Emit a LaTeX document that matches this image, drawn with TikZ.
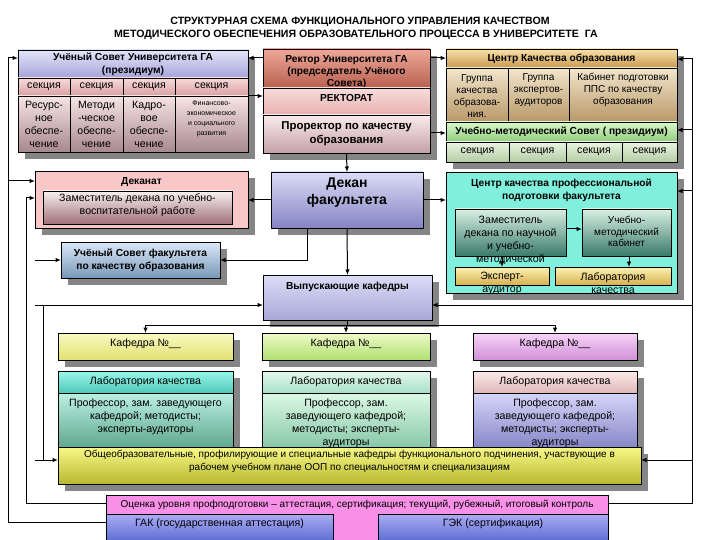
\documentclass[tikz,border=0pt]{standalone}
\usepackage{fontspec}
\setmainfont{Liberation Sans}
\usetikzlibrary{arrows.meta,shadows}

\newcommand\tn{\fontsize{10.6}{13}\selectfont}
\newcommand\tnS{\fontsize{10}{11.8}\selectfont}
\newcommand\tb{\bfseries\fontsize{10.2}{13}\selectfont}
\newcommand\tr{\bfseries\fontsize{10.2}{12}\selectfont}
\newcommand\tbl{\bfseries\fontsize{11.4}{13.5}\selectfont}
\newcommand\tbig{\bfseries\fontsize{14}{17}\selectfont}
\newcommand\tsm{\fontsize{10}{13}\selectfont}
\newcommand\ttiny{\fontsize{7}{10}\selectfont}

\definecolor{cLavT}{HTML}{E4E4FA}\definecolor{cLavB}{HTML}{A4A4D8}
\definecolor{cPkT}{HTML}{F8DADA}\definecolor{cPkB}{HTML}{D8A0A0}
\definecolor{cMvT}{HTML}{F6E4E4}\definecolor{cMvB}{HTML}{A88890}
\definecolor{cRcT}{HTML}{EEA898}\definecolor{cRcB}{HTML}{B86050}
\definecolor{cRtT}{HTML}{F8DCDC}\definecolor{cRtB}{HTML}{E8B0B0}
\definecolor{cPrT}{HTML}{FAECEC}\definecolor{cPrB}{HTML}{C4A0A8}
\definecolor{cCqT}{HTML}{F8E2A8}\definecolor{cCqB}{HTML}{C89850}
\definecolor{cCcT}{HTML}{F2E6CC}\definecolor{cCcB}{HTML}{B89868}
\definecolor{cUmT}{HTML}{DAF8CA}\definecolor{cUmB}{HTML}{8ECC7C}
\definecolor{cUsT}{HTML}{EAF4E2}\definecolor{cUsB}{HTML}{B4CCA4}
\definecolor{cDk}{HTML}{F8C8C8}
\definecolor{cZmT}{HTML}{F8F0F0}\definecolor{cZmB}{HTML}{A07078}
\definecolor{cUfT}{HTML}{DAE8F8}\definecolor{cUfB}{HTML}{7898B8}
\definecolor{cDfT}{HTML}{DCDCF6}\definecolor{cDfB}{HTML}{8484C4}
\definecolor{cVyT}{HTML}{DCDCF6}\definecolor{cVyB}{HTML}{A8A8D8}
\definecolor{cCpf}{HTML}{80F0DC}
\definecolor{cTeT}{HTML}{D8F0E4}\definecolor{cTeB}{HTML}{3A7A6A}
\definecolor{cYeT}{HTML}{FAF2B4}\definecolor{cYeB}{HTML}{D8B050}
\definecolor{cK1T}{HTML}{FAFAC4}\definecolor{cK1B}{HTML}{E0E070}
\definecolor{cK2T}{HTML}{EEFAC8}\definecolor{cK2B}{HTML}{B0E070}
\definecolor{cK3T}{HTML}{F8D4F8}\definecolor{cK3B}{HTML}{D090D8}
\definecolor{cL1T}{HTML}{98F8EA}\definecolor{cL1B}{HTML}{50C8B8}
\definecolor{cL2T}{HTML}{E4F8EE}\definecolor{cL2B}{HTML}{A8E0C8}
\definecolor{cL3T}{HTML}{FCEAEA}\definecolor{cL3B}{HTML}{E0B8B8}
\definecolor{cP1T}{HTML}{BCF0E2}\definecolor{cP1B}{HTML}{60A890}
\definecolor{cP2T}{HTML}{DCF8E4}\definecolor{cP2B}{HTML}{88C8A8}
\definecolor{cP3T}{HTML}{D4D4F8}\definecolor{cP3B}{HTML}{8888C8}
\definecolor{cObT}{HTML}{F8F888}\definecolor{cObB}{HTML}{B8B830}
\definecolor{cOc}{HTML}{F890E8}
\definecolor{cGkT}{HTML}{ACACF8}\definecolor{cGkB}{HTML}{6070D0}

\tikzset{
  tf/.code={\gdef\curtf{#1}},
  ty/.code={\gdef\curty{#1}},
  bxs/.style={draw=black, line width=0.7pt, inner sep=0pt, outer sep=0pt},
  shd/.style={drop shadow={shadow xshift=7pt,shadow yshift=-7pt,fill=black!48,opacity=1}},
  gr/.style 2 args={top color=#1,bottom color=#2},
  txs/.style={inner sep=0pt, align=center, text=black},
  ln/.style={line width=1pt},
  arr/.style={ln,-{Latex[length=5.5pt,width=4.5pt]}}
}

% name, style, x1, y1, x2, y2, text
\newcommand{\bx}[7]{%
  \gdef\curtf{\tn}\gdef\curty{0}%
  \node[bxs,#2,minimum width={(#5-#3)*1pt},minimum height={(#6-#4)*1pt}] (#1) at ({(#3+#5)/2},{(#4+#6)/2}) {};
  \node[txs,font=\curtf] (#1-t) at ([yshift={-(\curty)*1pt}]#1.center) {#7};
}

\begin{document}
\begin{tikzpicture}[x=1pt,y=-1pt]
\useasboundingbox (0,0) rectangle (720,540);
\fill[white] (0,0) rectangle (720,540);

% title
\node[txs,font=\bfseries\fontsize{10.6}{12}\selectfont] (title1) at (360,22) {СТРУКТУРНАЯ СХЕМА ФУНКЦИОНАЛЬНОГО УПРАВЛЕНИЯ КАЧЕСТВОМ};
\node[txs,font=\bfseries\fontsize{10.6}{12}\selectfont] (title2) at (356,35) {МЕТОДИЧЕСКОГО ОБЕСПЕЧЕНИЯ ОБРАЗОВАТЕЛЬНОГО ПРОЦЕССА В УНИВЕРСИТЕТЕ \ ГА};

% Academic council of the university
\bx{usuH}{shd,gr={cLavT}{cLavB},tf=\tb}{18}{50}{248}{78}{Учёный Совет Университета ГА\\(президиум)}
\bx{usuS1}{shd,gr={cPkT}{cPkB}}{18}{78}{70}{96}{секция}
\bx{usuS2}{shd,gr={cPkT}{cPkB}}{70}{78}{123}{96}{секция}
\bx{usuS3}{shd,gr={cPkT}{cPkB}}{123}{78}{175}{96}{секция}
\bx{usuS4}{shd,gr={cPkT}{cPkB}}{175}{78}{248}{96}{секция}
\bx{usuC1}{shd,gr={cMvT}{cMvB}}{18}{96}{70}{152}{Ресурс-\\ное\\обеспе-\\чение}
\bx{usuC2}{shd,gr={cMvT}{cMvB}}{70}{96}{123}{152}{Методи\\-ческое\\обеспе-\\чение}
\bx{usuC3}{shd,gr={cMvT}{cMvB}}{123}{96}{175}{152}{Кадро-\\вое\\обеспе-\\чение}
\bx{usuC4}{shd,gr={cMvT}{cMvB},tf=\ttiny,ty=-5}{175}{96}{248}{152}{Финансово-\\экономическое\\и социального\\развития}

% Rector
\bx{rector}{shd,gr={cRcT}{cRcB},tf=\tr,ty=3.5}{263}{49}{430}{88}{Ректор Университета ГА\\(председатель Учёного\\Совета)}
\bx{rectorat}{shd,gr={cRtT}{cRtB},tf=\tb,ty=-4}{263}{88}{430}{115}{РЕКТОРАТ}
\bx{prorector}{shd,gr={cPrT}{cPrB},tf=\tbl}{263}{115}{430}{153}{Проректор по качеству\\образования}

% Quality centre
\bx{cq}{shd,gr={cCqT}{cCqB},tf=\tb}{446}{49}{677}{68}{Центр Качества образования}
\bx{cq1}{shd,gr={cCcT}{cCcB},tf=\tnS,ty=1}{446}{68}{508}{122}{Группа\\качества\\образова-\\ния.}
\bx{cq2}{shd,gr={cCcT}{cCcB},tf=\tnS,ty=-5}{508}{68}{569}{122}{Группа\\экспертов-\\аудиторов}
\bx{cq3}{shd,gr={cCcT}{cCcB},tf=\tnS,ty=-5}{569}{68}{677}{122}{Кабинет подготовки\\ППС по качеству\\образования}
\bx{ums}{shd,gr={cUmT}{cUmB},tf=\tb}{446}{122}{677}{142}{Учебно-методический Совет ( президиум)}
\bx{umsS1}{shd,gr={cUsT}{cUsB}}{446}{142}{509}{162}{секция}
\bx{umsS2}{shd,gr={cUsT}{cUsB}}{509}{142}{566}{162}{секция}
\bx{umsS3}{shd,gr={cUsT}{cUsB}}{566}{142}{622}{162}{секция}
\bx{umsS4}{shd,gr={cUsT}{cUsB}}{622}{142}{677}{162}{секция}

% Dean's office
\bx{dekanat}{shd,fill=cDk,tf=\tb,ty=-17.5}{35}{171}{248}{228}{Деканат}
\bx{zam1}{gr={cZmT}{cZmB},ty=-2}{43}{191}{232}{224}{Заместитель декана по учебно-\\воспитательной работе}
\bx{uchsf}{shd,gr={cUfT}{cUfB},tf=\tb}{61}{242}{220}{278}{Учёный Совет факультета\\по качеству образования}

% Dean
\bx{dekanF}{shd,gr={cDfT}{cDfB},tf=\tbig,ty=-7}{271}{172}{423}{228}{Декан\\факультета}
\bx{vyp}{shd,gr={cVyT}{cVyB},tf=\tb,ty=-11}{263}{275}{432}{320}{Выпускающие кафедры}

% Faculty quality centre
\bx{cpf}{shd,fill=cCpf,tf=\tb,ty=-42.5}{446}{172}{677}{293}{Центр качества профессиональной\\подготовки факультета}
\bx{zam2}{gr={cTeT}{cTeB},ty=7.5}{455}{209}{566}{256}{Заместитель\\декана по научной\\и учебно-\\методической}
\bx{kab}{gr={cTeT}{cTeB},tf=\tnS,ty=-1}{582}{209}{671}{256}{Учебно-\\методический\\кабинет}
\bx{exp}{gr={cYeT}{cYeB},ty=7}{455}{267}{549}{285}{Эксперт-\\аудитор}
\bx{lab}{gr={cYeT}{cYeB},ty=7}{555}{267}{671}{285}{Лаборатория\\качества}

% Chairs
\bx{k1}{shd,gr={cK1T}{cK1B},ty=-3}{58}{333}{233}{360}{Кафедра №\_\_}
\bx{k2}{shd,gr={cK2T}{cK2B},ty=-3}{262}{333}{430}{360}{Кафедра №\_\_}
\bx{k3}{shd,gr={cK3T}{cK3B},ty=-3}{473}{333}{637}{360}{Кафедра №\_\_}
\bx{l1}{shd,gr={cL1T}{cL1B}}{58}{371}{233}{393}{Лаборатория качества}
\bx{l2}{shd,gr={cL2T}{cL2B}}{262}{371}{430}{393}{Лаборатория качества}
\bx{l3}{shd,gr={cL3T}{cL3B}}{473}{371}{637}{393}{Лаборатория качества}
\bx{p1}{shd,gr={cP1T}{cP1B},ty=-3.5}{58}{393}{233}{447}{Профессор, зам. заведующего\\кафедрой; методисты;\\эксперты-аудиторы}
\bx{p2}{shd,gr={cP2T}{cP2B},ty=3}{262}{393}{430}{447}{Профессор, зам.\\заведующего кафедрой;\\методисты; эксперты-\\аудиторы}
\bx{p3}{shd,gr={cP3T}{cP3B},ty=3}{473}{393}{637}{447}{Профессор, зам.\\заведующего кафедрой;\\методисты; эксперты-\\аудиторы}

\bx{obsh}{shd,gr={cObT}{cObB},tf=\tsm,ty=-4}{58}{447}{641}{484}{Общеобразовательные, профилирующие и специальные кафедры функционального подчинения, участвующие в\\рабочем учебном плане ООП по специальностям и специализациям}

% Assessment
\bx{ocenka}{fill=cOc,tf=\tsm,ty=-12.5}{106}{495}{608}{540}{Оценка уровня профподготовки – аттестация, сертификация; текущий, рубежный, итоговый контроль}
\bx{gak}{gr={cGkT}{cGkB},ty=-3}{106}{514}{333}{540}{ГАК (государственная аттестация)}
\bx{gek}{gr={cGkT}{cGkB},ty=-3}{378}{514}{608}{540}{ГЭК (сертификация)}

% ---------- connectors ----------
\coordinate (L1a) at (8,58);
\coordinate (L1b) at (8,522);
\coordinate (L1c) at (8,181);
\draw[arr] (gak.west |- L1b) -- (L1b) -- (L1a) -- (usuH.west |- L1a);
\draw[arr] (L1c) -- (dekanat.west |- L1c);

\coordinate (L2a) at (26,198);
\coordinate (L2b) at (26,503);
\coordinate (Ra) at (692,59);
\coordinate (Rb) at (692,503);
\coordinate (Rc) at (692,130);
\coordinate (Rd) at (692,191);
\coordinate (Re) at (692,305);
\coordinate (Rf) at (692,460);
\draw[arr] (ocenka.west |- L2b) -- (L2b) -- (L2a) -- (dekanat.west |- L2a);
\draw[arr] (ocenka.east |- Rb) -- (Rb) -- (Ra) -- (cq.east |- Ra);
\draw[arr] (Rc) -- (ums.east |- Rc);
\draw[arr] (Rd) -- (cpf.east |- Rd);
\draw[arr] (Re) -- (vyp.east |- Re);
\draw[arr] (Rf) -- (obsh.east |- Rf);

\coordinate (La) at (35,260);
\coordinate (Lb) at (35,305);
\coordinate (Lc) at (43,305);
\coordinate (Ld) at (43,460);
\coordinate (Le) at (35,460);
\draw[arr] (La) -- (uchsf.west |- La);
\draw[arr] (Lb) -- (vyp.west |- Lb);
\draw[ln] (Lc) -- (Ld);
\draw[arr] (Le) -- (obsh.west |- Le);

\coordinate (T58) at (0,58);
\coordinate (T133) at (0,133);
\coordinate (T200) at (0,200);
\coordinate (T229) at (0,229);
\coordinate (K) at (0,325);
\coordinate (Dx) at (307,0);
\coordinate (X502) at (502,0);
\coordinate (X629) at (629,0);
\draw[arr] (rector.west |- T58) -- (usuH.east |- T58);
\draw[arr] (rector.east |- T58) -- (cq.west |- T58);
\draw[arr] (usuC4.north east) -- (rectorat.west |- usuC4.north east);
\draw[arr] (prorector.east |- T133) -- (ums.west |- T133);
\draw[arr] (prorector.south) -- (dekanF.north);
\draw[arr] (dekanF.west |- T200) -- (dekanat.east |- T200);
\draw[arr] (dekanF.east |- T200) -- (cpf.west |- T200);
\draw[arr] (dekanF.south -| Dx) |- (uchsf.east);
\draw[arr] (dekanF.south) -- (vyp.north);
\draw[ln] (vyp.south) -- (vyp.south |- K);
\draw[ln] (k1.north |- K) -- (k3.north |- K);
\draw[arr] (k1.north |- K) -- (k1.north);
\draw[arr] (k2.north |- K) -- (k2.north);
\draw[arr] (k3.north |- K) -- (k3.north);
\draw[arr] (zam2.east |- T229) -- (kab.west |- T229);
\draw[arr] (zam2.south -| X502) -- (exp.north -| X502);
\draw[arr] (kab.south -| X629) -- (lab.north -| X629);
\end{tikzpicture}
\end{document}
